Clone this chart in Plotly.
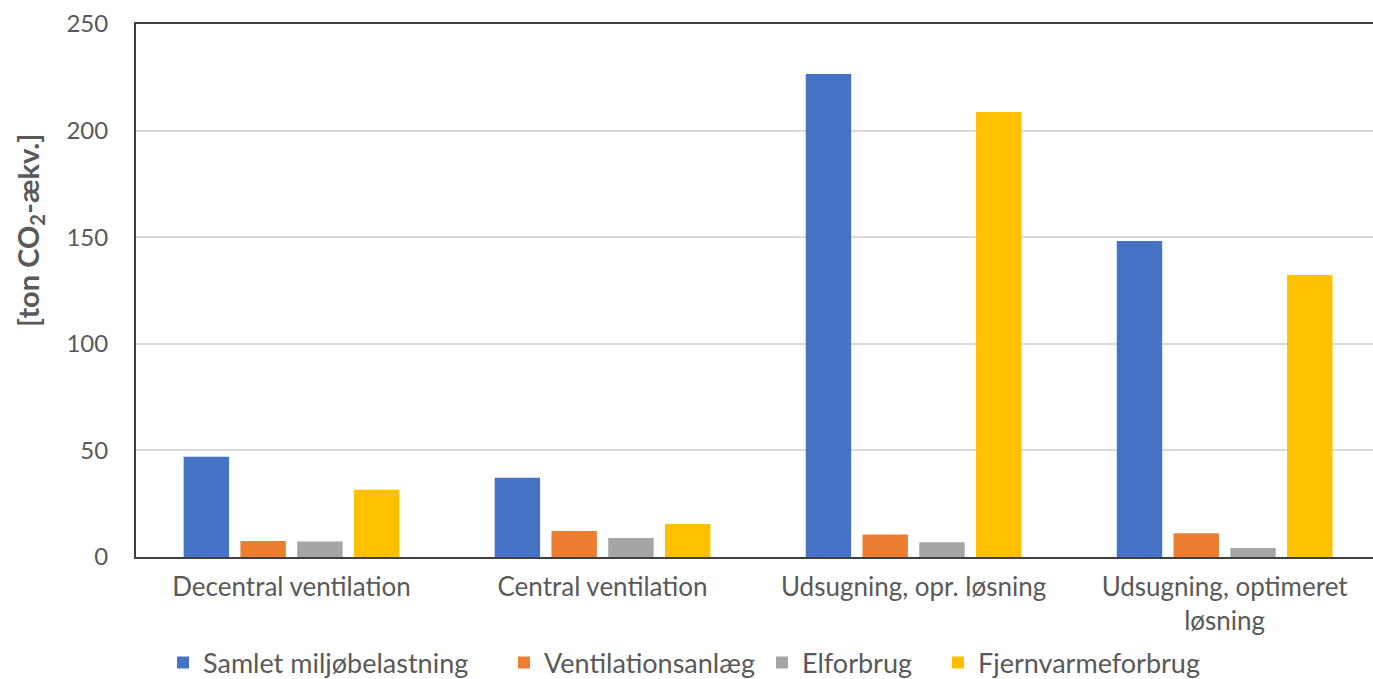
import plotly.graph_objects as go

# Categories and CO2 totals per solution
categories = [
    "Decentral ventilation",
    "Central ventilation",
    "Udsugning, opr. løsning",
    "Udsugning, optimeret<br>løsning",
]
samlet = [47.0, 37.2, 226.5, 148.2]
ventilationsanlaeg = [7.5, 12.2, 10.6, 11.1]
elforbrug = [7.3, 8.9, 6.9, 4.2]
fjernvarme = [31.6, 15.5, 208.7, 132.3]

series = [
    ("Samlet miljøbelastning", samlet, "#4472C4"),
    ("Ventilationsanlæg", ventilationsanlaeg, "#ED7D31"),
    ("Elforbrug", elforbrug, "#A5A5A5"),
    ("Fjernvarmeforbrug", fjernvarme, "#FFC000"),
]

# Left edge (px) of each legend entry along the bottom row
legend_left_px = [163, 504, 762, 938]

FONT = "Lato, 'Open Sans', sans-serif"
TXT = "#595959"
W, H = 1373, 679

fig = go.Figure()
legend_layout = {}
for i, (name, vals, color) in enumerate(series):
    key = "legend" if i == 0 else f"legend{i + 1}"
    fig.add_trace(go.Bar(name=name, x=categories, y=vals, marker_color=color,
                         marker_line_width=0, legend=key))
    legend_layout[key] = dict(
        orientation="h", xref="container", yref="container",
        x=legend_left_px[i] / W, xanchor="left",
        y=1 - 663 / H, yanchor="middle",
        font=dict(size=27, color=TXT), itemwidth=30,
        bgcolor="rgba(0,0,0,0)",
    )

fig.update_layout(
    width=W, height=H,
    margin=dict(l=136, r=0, t=24, b=122),
    paper_bgcolor="white", plot_bgcolor="white",
    barmode="group", bargap=0.27, bargroupgap=0.2,
    font=dict(family=FONT, color=TXT, size=24),
    showlegend=True,
    **legend_layout,
)
fig.update_xaxes(
    range=[-0.5, 3.477], showline=True, linecolor="#404040", linewidth=2,
    mirror=True, showgrid=False, ticks="", ticklabelstandoff=6,
    tickfont=dict(size=26, color=TXT), fixedrange=True,
)
fig.update_yaxes(
    range=[0, 250], tickvals=[0, 50, 100, 150, 200, 250],
    showline=True, linecolor="#404040", linewidth=2,
    showgrid=True, gridcolor="#D9D9D9", gridwidth=1.5,
    zeroline=False, ticks="", ticklabelstandoff=21,
    tickfont=dict(size=24, color=TXT),
    automargin=False,
)

# Rotated unit label on the left
fig.add_annotation(
    text="<b>[ton CO<sub>2</sub>-ækv.]</b>", textangle=-90,
    xref="paper", yref="paper", x=-0.086, y=0.613,
    xanchor="center", yanchor="middle", showarrow=False,
    font=dict(size=29, color=TXT, family=FONT),
)

fig.write_html("out.html")
